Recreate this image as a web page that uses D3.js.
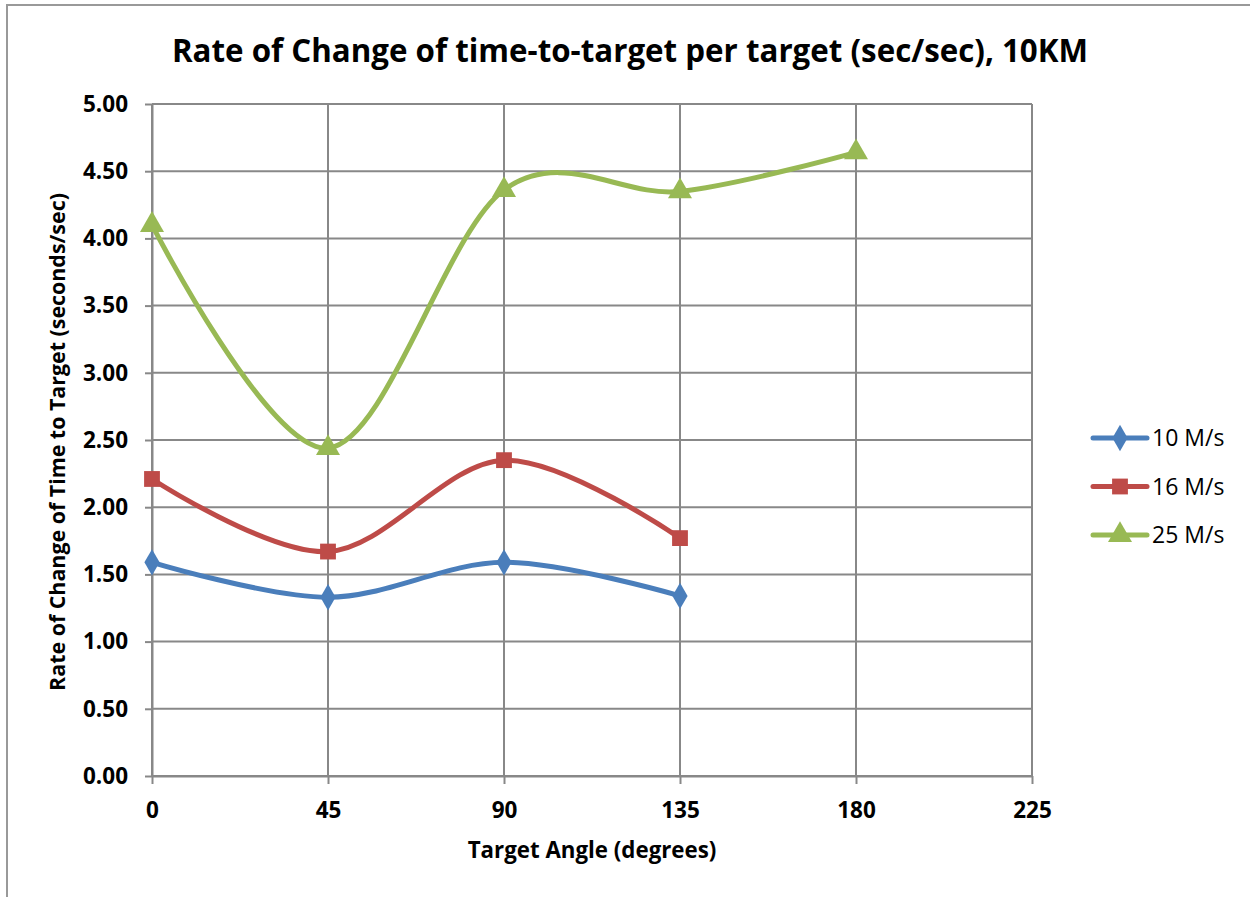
<!DOCTYPE html>
<meta charset="utf-8">
<style>
body { margin: 0; background: #fff; }
svg text { font-family: "Open Sans", sans-serif; }
.grid line { stroke: #888; stroke-width: 2px; }
.axis path, .axis line { stroke: #888; stroke-width: 2px; fill: none; }
.axis text { font-family: "Open Sans", sans-serif; font-size: 22.5px; font-weight: bold; fill: #000; }
.series { fill: none; stroke-width: 5px; stroke-linecap: round; }
</style>
<svg width="1250" height="897"></svg>
<script src="https://d3js.org/d3.v7.min.js"></script>
<script>
var angles = [0, 45, 90, 135, 180];
var xTicks = [0, 45, 90, 135, 180, 225];
var yTicks = [0, 0.5, 1, 1.5, 2, 2.5, 3, 3.5, 4, 4.5, 5];
var seriesNames = ["10 M/s", "16 M/s", "25 M/s"];
var s10 = [1.59, 1.33, 1.59, 1.34];
var s16 = [2.21, 1.67, 2.35, 1.77];
var s25 = [4.10, 2.44, 4.36, 4.35, 4.64];
var colors = ["#4A7EBB", "#BE4B48", "#98B954"];
var shapes = [d3.symbolDiamond, d3.symbolSquare, d3.symbolTriangle];

var svg = d3.select("svg");
svg.append("rect").attr("x", 7).attr("y", 5).attr("width", 1260).attr("height", 900)
  .attr("fill", "none").attr("stroke", "#999").attr("stroke-width", 2);

var margin = {top: 104, left: 152},
    width = 880, height = 672;
var g = svg.append("g").attr("transform", "translate(" + margin.left + "," + margin.top + ")");

var x = d3.scaleLinear().domain([0, 225]).range([0, width]);
var y = d3.scaleLinear().domain([0, 5]).range([height, 0]);

// grid
g.append("g").attr("class", "grid").selectAll("line").data(yTicks).enter().append("line")
  .attr("x1", 0).attr("x2", width).attr("y1", d => y(d)).attr("y2", d => y(d));
g.append("g").attr("class", "grid").selectAll("line").data(xTicks).enter().append("line")
  .attr("y1", 0).attr("y2", height).attr("x1", d => x(d)).attr("x2", d => x(d));

var xa = g.append("g").attr("class", "axis")
  .attr("transform", "translate(0," + height + ")")
  .call(d3.axisBottom(x).tickValues(xTicks).tickSize(8).tickSizeOuter(0));
xa.selectAll("text").attr("y", 42).attr("dy", null);
g.append("g").attr("class", "axis")
  .call(d3.axisLeft(y).tickValues(yTicks).tickFormat(d3.format(".2f")).tickSize(7).tickPadding(17).tickSizeOuter(0));

var line = d3.line().x((d, i) => x(angles[i])).y(d => y(d)).curve(d3.curveCardinal.tension(0));

[s10, s16, s25].forEach(function(data, k) {
  g.append("path").attr("class", "series").attr("d", line(data)).attr("stroke", colors[k]);
  g.selectAll(".m" + k).data(data).enter().append("path")
    .attr("class", "m" + k)
    .attr("transform", (d, i) => "translate(" + x(angles[i]) + "," + y(d) + ")")
    .attr("d", d3.symbol().type(shapes[k]).size(k == 0 ? 200 : 250))
    .attr("fill", colors[k]);
});

// legend
var leg = svg.append("g").attr("transform", "translate(1093,438)");
seriesNames.forEach(function(n, k) {
  var r = leg.append("g").attr("transform", "translate(0," + (k * 48.5) + ")");
  r.append("line").attr("x1", 0).attr("x2", 54).attr("stroke", colors[k])
    .attr("stroke-width", 5).attr("stroke-linecap", "round");
  r.append("path").attr("transform", "translate(27,0)")
    .attr("d", d3.symbol().type(shapes[k]).size(k == 0 ? 200 : 250)).attr("fill", colors[k]);
  r.append("text").attr("x", 59).attr("y", 8).attr("font-size", 23).text(n);
});

svg.append("text").attr("x", 630).attr("y", 62).attr("text-anchor", "middle")
  .attr("font-size", 31.3).attr("font-weight", "bold").text("Rate of Change of time-to-target per target (sec/sec), 10KM");
svg.append("text").attr("x", 592).attr("y", 858).attr("text-anchor", "middle")
  .attr("font-size", 22.3).attr("font-weight", "bold").text("Target Angle (degrees)");
svg.append("text").attr("transform", "translate(65,442) rotate(-90)").attr("text-anchor", "middle")
  .attr("font-size", 21.4).attr("font-weight", "bold").text("Rate of Change of Time to Target (seconds/sec)");
</script>
